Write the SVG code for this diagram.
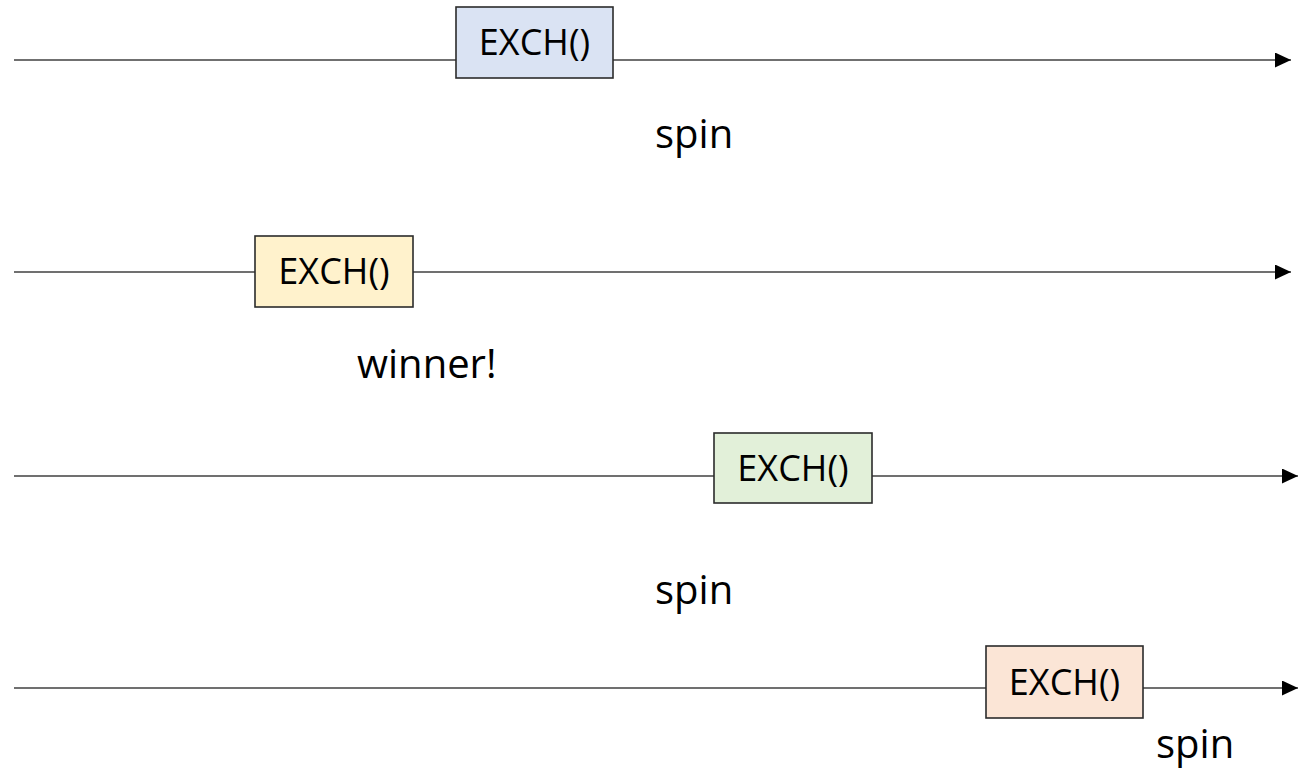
<svg xmlns="http://www.w3.org/2000/svg" width="1309" height="777" viewBox="0 0 1309 777">
  <style>
    .ln { stroke: #404040; stroke-width: 1.6; fill: none; }
    .box { stroke: #2b2b2b; stroke-width: 1.6; }
    .lbl { font-family: "Open Sans", "Liberation Sans", sans-serif; font-size: 36px; fill: #000; text-anchor: middle; }
    .note { font-family: "Open Sans", "Liberation Sans", sans-serif; font-size: 40px; fill: #000; }
  </style>
  <defs>
    <marker id="arr" markerUnits="userSpaceOnUse" markerWidth="17" markerHeight="16" refX="16" refY="7.5" orient="auto">
      <path d="M0,0 L16,7.5 L0,15 Z" fill="#000"/>
    </marker>
  </defs>
  <rect width="1309" height="777" fill="#fff"/>
  <g id="connectors">
    <line class="ln" x1="14" y1="60" x2="1291" y2="60" marker-end="url(#arr)"/>
    <line class="ln" x1="14" y1="272" x2="1291" y2="272" marker-end="url(#arr)"/>
    <line class="ln" x1="14" y1="476" x2="1298" y2="476" marker-end="url(#arr)"/>
    <line class="ln" x1="14" y1="688" x2="1298" y2="688" marker-end="url(#arr)"/>
  </g>
  <g id="node1">
    <rect class="box" x="456" y="7" width="157" height="71" fill="#DAE3F3"/>
    <text class="lbl" x="534.5" y="55">EXCH()</text>
  </g>
  <g id="node2">
    <rect class="box" x="255" y="236" width="158" height="71" fill="#FFF2CC"/>
    <text class="lbl" x="334" y="284">EXCH()</text>
  </g>
  <g id="node3">
    <rect class="box" x="714" y="433" width="158" height="70" fill="#E2F0D9"/>
    <text class="lbl" x="793" y="480.5">EXCH()</text>
  </g>
  <g id="node4">
    <rect class="box" x="986" y="646" width="157" height="72" fill="#FBE5D6"/>
    <text class="lbl" x="1064.5" y="694.5">EXCH()</text>
  </g>
  <g id="labels">
    <text class="note" x="655" y="148">spin</text>
    <text class="note" x="357" y="378">winner!</text>
    <text class="note" x="655" y="604">spin</text>
    <text class="note" x="1156" y="758">spin</text>
  </g>
</svg>
